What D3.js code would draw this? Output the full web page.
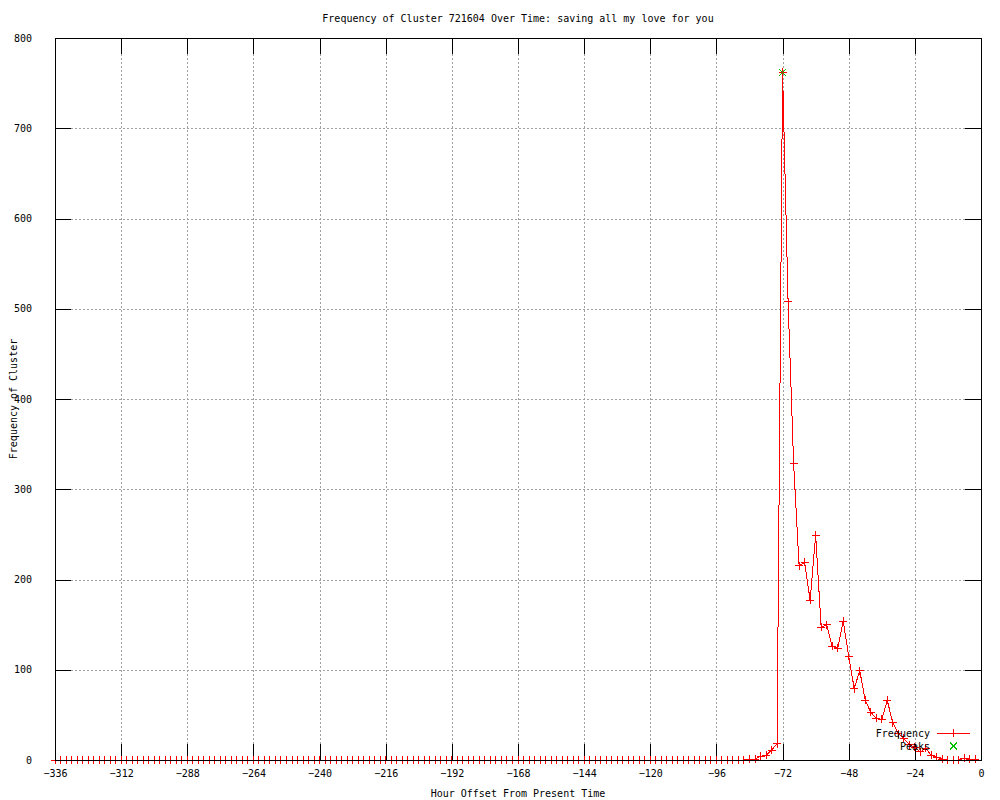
<!DOCTYPE html>
<html>
<head>
<meta charset="utf-8">
<script src="https://cdn.jsdelivr.net/npm/d3@7"></script>
<style>
  body { margin: 0; background: #fff; }
  text { font-family: "DejaVu Sans Mono", "Liberation Mono", monospace; font-size: 10px; fill: #000; }
  line, path, rect { shape-rendering: crispEdges; }
</style>
</head>
<body>
<div id="chart"></div>
<script>
// hours before now, one sample every 2 hours (-336 .. -2)
var hours = d3.range(-336, 0, 2);

// frequency per sample
var freq = [
  0,0,0,0,0,0,0,0,0,0, 0,0,0,0,0,0,0,0,0,0,   // -336 .. -298
  0,0,0,0,0,0,0,0,0,0, 0,0,0,0,0,0,0,0,0,0,   // -296 .. -258
  0,0,0,0,0,0,0,0,0,0, 0,0,0,0,0,0,0,0,0,0,   // -256 .. -218
  0,0,0,0,0,0,0,0,0,0, 0,0,0,0,0,0,0,0,0,0,   // -216 .. -178
  0,0,0,0,0,0,0,0,0,0, 0,0,0,0,0,0,0,0,0,0,   // -176 .. -138
  0,0,0,0,0,0,0,0,0,0, 0,0,0,0,0,0,0,0,0,0,   // -136 .. -98
  0,0,0,0,0,0,                                // -96 .. -86
  1,1,4,5,11,18,                              // -84 .. -74
  762,508,329,215,219,177,249,147,150,126,    // -72 .. -54
  124,154,115,79,99,66,53,46,45,66,           // -52 .. -34
  41,29,24,17,14,9,13,5,3,1,                  // -32 .. -14
  0,0,0,2,1,1                                 // -12 .. -2
];

var peakHours = [-72];
var peakValues = [762];

var xTicks = d3.range(-336, 1, 24);
var yTicks = d3.range(0, 801, 100);

var titleText = "Frequency of Cluster 721604 Over Time: saving all my love for you";
var xLabel = "Hour Offset From Present Time";
var yLabel = "Frequency of Cluster";
var seriesNames = ["Frequency", "Peaks"];

var data = hours.map(function(h, i) { return {h: h, v: freq[i]}; });
var peaks = peakHours.map(function(h, i) { return {h: h, v: peakValues[i]}; });

var margin = {top: 38, right: 19, bottom: 40, left: 55},
    width = 1000 - margin.left - margin.right,
    height = 800 - margin.top - margin.bottom;

var svg = d3.select("#chart")
  .append("svg")
  .attr("width", 1000)
  .attr("height", 800)
  .append("g")
  .attr("transform", "translate(" + margin.left + "," + margin.top + ")");

var x = d3.scaleLinear().domain([-336, 0]).range([0, width]);
var y = d3.scaleLinear().domain([0, 800]).range([height, 0]);

var fmt = function(d) { return d < 0 ? "\u2212" + Math.abs(d) : String(d); };

// grid
svg.append("g")
  .selectAll("line")
  .data(xTicks)
  .enter().append("line")
  .attr("x1", function(d) { return x(d) + 0.5; })
  .attr("x2", function(d) { return x(d) + 0.5; })
  .attr("y1", 0).attr("y2", height)
  .style("stroke", "#a0a0a0").style("stroke-dasharray", "2,2");
svg.append("g")
  .selectAll("line")
  .data(yTicks)
  .enter().append("line")
  .attr("y1", function(d) { return y(d) + 0.5; })
  .attr("y2", function(d) { return y(d) + 0.5; })
  .attr("x1", 0).attr("x2", width)
  .style("stroke", "#a0a0a0").style("stroke-dasharray", "2,2");

// axes, ticks inward and mirrored
var tk = 16;
var axB = svg.append("g").attr("transform", "translate(0," + height + ")")
  .call(d3.axisBottom(x).tickValues(xTicks).tickSize(-tk).tickPadding(tk + 5).tickFormat(fmt));
var axT = svg.append("g")
  .call(d3.axisTop(x).tickValues(xTicks).tickSize(-tk).tickFormat(""));
var axL = svg.append("g")
  .call(d3.axisLeft(y).tickValues(yTicks).tickSize(-tk).tickPadding(tk + 7).tickFormat(fmt));
var axR = svg.append("g").attr("transform", "translate(" + width + ",0)")
  .call(d3.axisRight(y).tickValues(yTicks).tickSize(-tk).tickFormat(""));
[axB, axT, axL, axR].forEach(function(a) {
  a.select(".domain").remove();
  a.selectAll("line").style("stroke", "#000");
  a.selectAll("text").style("font-family", "DejaVu Sans Mono").style("font-size", "10px");
});
axB.selectAll("text").attr("dy", "0.35em").attr("y", 13);

// data line
var line = d3.line()
  .x(function(d) { return x(d.h); })
  .y(function(d) { return y(d.v); });
svg.append("path")
  .datum(data)
  .attr("d", line)
  .style("fill", "none")
  .style("stroke", "#ff0000")
  .style("stroke-width", 1);

// plus markers
var plus = function(cx, cy, r) {
  return "M" + (cx - r) + "," + cy + "H" + (cx + r) + "M" + cx + "," + (cy - r) + "V" + (cy + r);
};
var cross = function(cx, cy, r) {
  return "M" + (cx - r) + "," + (cy - r) + "L" + (cx + r) + "," + (cy + r) +
         "M" + (cx - r) + "," + (cy + r) + "L" + (cx + r) + "," + (cy - r);
};
svg.append("g")
  .selectAll("path")
  .data(data)
  .enter().append("path")
  .attr("d", function(d) { return plus(x(d.h), y(d.v), 4); })
  .style("stroke", "#ff0000").style("fill", "none");

// peak markers
svg.append("g")
  .selectAll("path")
  .data(peaks)
  .enter().append("path")
  .attr("d", function(d) { return cross(x(d.h), y(d.v), 3.5); })
  .style("stroke", "#00c000").style("fill", "none");

// border
svg.append("rect")
  .attr("x", 0.5).attr("y", 0.5)
  .attr("width", width).attr("height", height)
  .style("fill", "none").style("stroke", "#000");

// legend
var lg = svg.append("g").attr("transform", "translate(" + (930 - margin.left) + "," + (733 - margin.top) + ")");
lg.append("text").attr("x", 0).attr("y", 0).attr("dy", "0.35em")
  .style("text-anchor", "end").text(seriesNames[0]);
lg.append("line").attr("x1", 7).attr("x2", 40).attr("y1", 0).attr("y2", 0)
  .style("stroke", "#ff0000");
lg.append("path").attr("d", plus(23.5, 0, 4)).style("stroke", "#ff0000");
lg.append("text").attr("x", 0).attr("y", 13).attr("dy", "0.35em")
  .style("text-anchor", "end").text(seriesNames[1]);
lg.append("path").attr("d", cross(23.5, 13, 3.5)).style("stroke", "#00c000").style("fill", "none");

// titles
svg.append("text")
  .attr("x", width / 2).attr("y", 18 - margin.top).attr("dy", "0.35em")
  .style("text-anchor", "middle").text(titleText);
svg.append("text")
  .attr("x", width / 2).attr("y", 793 - margin.top).attr("dy", "0.35em")
  .style("text-anchor", "middle").text(xLabel);
svg.append("text")
  .attr("transform", "translate(" + (13 - margin.left) + "," + (height / 2) + ") rotate(-90)")
  .attr("dy", "0.35em")
  .style("text-anchor", "middle").text(yLabel);
</script>
</body>
</html>
